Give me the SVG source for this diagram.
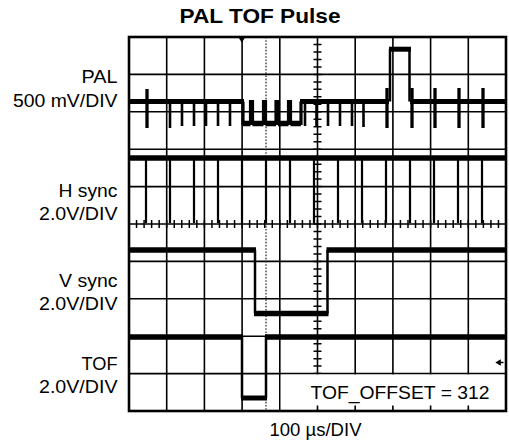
<svg xmlns="http://www.w3.org/2000/svg" width="509" height="444" viewBox="0 0 509 444">
<style>
.lbl{font-family:"Liberation Sans",Arial,sans-serif;font-size:18px;fill:#000}
.ttl{font-family:"Liberation Sans",Arial,sans-serif;font-size:20.5px;font-weight:bold;fill:#000}
.grid{stroke:#000;stroke-width:1.6;fill:none}
.thick{stroke:#000;stroke-width:5.5;fill:none}
.edge{stroke:#000;stroke-width:2.5;fill:none}
.thin{stroke:#000;stroke-width:2.2;fill:none}
</style>
<rect width="509" height="444" fill="#fff"/>
<text class="ttl" x="179.5" y="22.7" textLength="161" lengthAdjust="spacingAndGlyphs">PAL TOF Pulse</text>

<g id="graticule">
<path class="grid" d="M166.7,37V411M204.4,37V411M242.1,37V411M279.8,37V411M317.5,37V411M355.2,37V411M392.9,37V411M430.6,37V411M468.3,37V411"/>
<path class="grid" d="M129,74.4H506M129,111.8H506M129,149.2H506M129,186.6H506M129,224H506M129,261.4H506M129,298.8H506M129,336.2H506M129,373.6H506"/>
<line x1="128.25" y1="224" x2="506" y2="224" stroke="#000" stroke-width="8" stroke-dasharray="1.5 6.04"/>
<line x1="317.5" y1="36.25" x2="317.5" y2="374" stroke="#000" stroke-width="8" stroke-dasharray="1.5 5.98"/>
<line x1="266" y1="37" x2="266" y2="411" stroke="#222" stroke-width="1.2" stroke-dasharray="1.6 1.6"/>
</g>

<g id="offset-box">
<rect x="280.8" y="374.5" width="224" height="35.3" fill="#fff"/>
<path class="grid" d="M317.5,405.5V411M355.2,405.5V411M392.9,405.5V411M430.6,405.5V411M468.3,405.5V411"/>
<text class="lbl" x="310.5" y="399.3" textLength="179" lengthAdjust="spacingAndGlyphs" style="font-size:19px">TOF_OFFSET = 312</text>
</g>

<rect id="border" x="129" y="37" width="377" height="374" fill="none" stroke="#000" stroke-width="2.6"/>

<g id="markers">
<polygon points="238.3,37 245.3,37 241.8,42.8" fill="#000"/>
<polygon points="495.3,362.5 500.8,359.3 500.8,365.7" fill="#000"/>
<line x1="500" y1="362.5" x2="503.5" y2="362.5" stroke="#000" stroke-width="1.5"/>
</g>

<g id="trace-pal">
<path d="M129,101.5H244M300,101.5H389M410,101.5H506" stroke="#000" stroke-width="5" fill="none"/>
<path d="M243,101.5V123.5H250.5V101.5H252.5V123.5H263.5V101.5H265.5V123.5H276V101.5H278V123.5H288.5V101.5H290.5V123.5H301V101.5" stroke="#000" stroke-width="3.2" fill="none" stroke-linejoin="miter"/>
<path d="M243,123.5H250.5M252.5,123.5H263.5M265.5,123.5H276M278,123.5H288.5M290.5,123.5H301" stroke="#000" stroke-width="5.5" fill="none"/>
<path d="M390,101.5V49M409.5,49V101.5" class="edge"/>
<path d="M389,49.2H411" stroke="#000" stroke-width="5" fill="none"/>
<path d="M147,89V128M387,88V128M412,88V128M435,88V128M459,88V128M483,88V128" stroke="#000" stroke-width="3.3" fill="none"/>
<path d="M170,101V128M182,101V126M194,101V126M206,101V126M218,101V126M230,101V126M305,101V126M316.5,101V126M328,101V126M340,101V126M352,101V126M363.5,101V127" stroke="#000" stroke-width="2.6" fill="none"/>
</g>

<g id="trace-hsync">
<path class="thick" d="M129,158H506"/>
<path class="thin" d="M146,158V223M170,158V223M194,158V223M218,158V223M242,158V223M266,158V223M290,158V223M314,158V223M338,158V223M362,158V223M386,158V223M410,158V223M434,158V223M458,158V223M482,158V223"/>
</g>

<g id="trace-vsync">
<path class="thick" d="M129,250H256M254,313.5H328.5M326.5,250H506"/>
<path class="edge" d="M255,250V313.5M327.5,313.5V250"/>
</g>

<g id="trace-tof">
<path class="thick" d="M129,337H243M265,337H506"/>
<path d="M241,398H267" stroke="#000" stroke-width="5" fill="none"/>
<path class="edge" d="M242,337V398M266,398V337"/>
</g>

<g id="labels">
<text class="lbl" x="117.5" y="83" text-anchor="end" textLength="36" lengthAdjust="spacingAndGlyphs">PAL</text>
<text class="lbl" x="117.5" y="106.7" text-anchor="end" textLength="104.5" lengthAdjust="spacingAndGlyphs">500 mV/DIV</text>
<text class="lbl" x="117.5" y="196.7" text-anchor="end" textLength="59" lengthAdjust="spacingAndGlyphs">H sync</text>
<text class="lbl" x="117.5" y="220" text-anchor="end" textLength="78.5" lengthAdjust="spacingAndGlyphs">2.0V/DIV</text>
<text class="lbl" x="117.5" y="286.7" text-anchor="end" textLength="58.5" lengthAdjust="spacingAndGlyphs">V sync</text>
<text class="lbl" x="117.5" y="310" text-anchor="end" textLength="78.5" lengthAdjust="spacingAndGlyphs">2.0V/DIV</text>
<text class="lbl" x="117.5" y="370" text-anchor="end" textLength="36" lengthAdjust="spacingAndGlyphs">TOF</text>
<text class="lbl" x="117.5" y="392.7" text-anchor="end" textLength="78.5" lengthAdjust="spacingAndGlyphs">2.0V/DIV</text>
<text class="lbl" x="269.5" y="436.3" textLength="92" lengthAdjust="spacingAndGlyphs">100 µs/DIV</text>
</g>
</svg>
